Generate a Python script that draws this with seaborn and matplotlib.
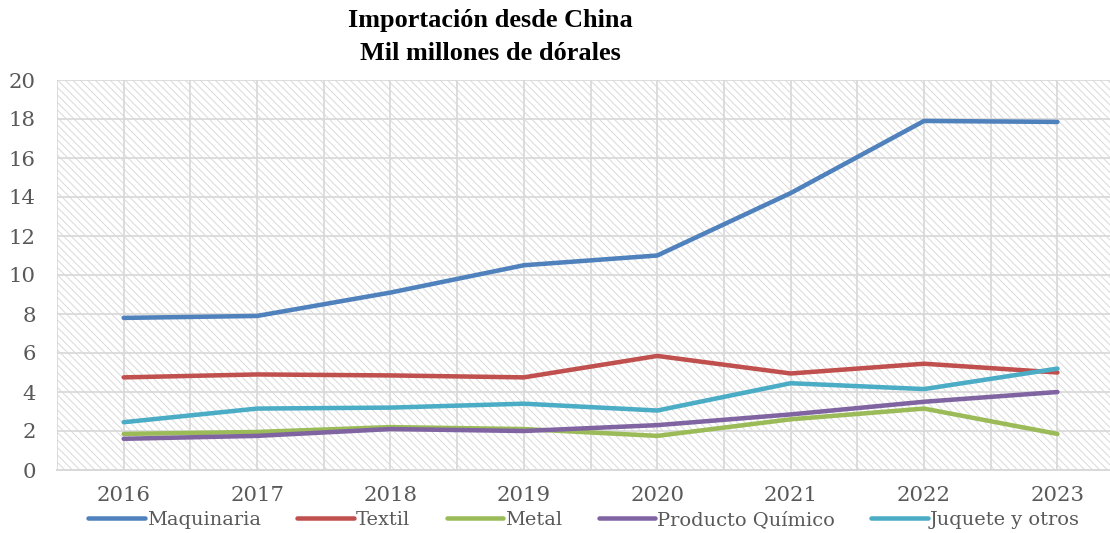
import matplotlib
matplotlib.use("Agg")
import matplotlib.pyplot as plt
import seaborn as sns
import pandas as pd
import numpy as np
from matplotlib.ticker import MultipleLocator, FixedLocator

years = ["2016", "2017", "2018", "2019", "2020", "2021", "2022", "2023"]
maquinaria = [7.8, 7.9, 9.1, 10.5, 11.0, 14.2, 17.9, 17.85]
textil = [4.75, 4.9, 4.85, 4.75, 5.85, 4.95, 5.45, 5.0]
metal = [1.85, 1.95, 2.2, 2.1, 1.75, 2.6, 3.15, 1.85]
quimico = [1.6, 1.75, 2.1, 2.0, 2.3, 2.85, 3.5, 4.0]
juquete = [2.45, 3.15, 3.2, 3.4, 3.05, 4.45, 4.15, 5.2]

series_names = ["Maquinaria", "Textil", "Metal", "Producto Químico", "Juquete y otros"]
series_vals = [maquinaria, textil, metal, quimico, juquete]
colors = ["#4F81BD", "#C0504D", "#9BBB59", "#8064A2", "#4BACC6"]

rows = []
for name, vals in zip(series_names, series_vals):
    for i, v in enumerate(vals):
        rows.append({"pos": i, "year": years[i], "serie": name, "valor": v})
df = pd.DataFrame(rows)

sns.set_theme(style="white")
plt.rcParams["hatch.color"] = "#DADADA"
plt.rcParams["hatch.linewidth"] = 0.8

DPI = 90
W, H = 1110, 533
fig = plt.figure(figsize=(W / DPI, H / DPI), dpi=DPI)
ax = fig.add_axes([57 / W, 1 - 470 / H, (W - 57) / W, (470 - 80) / H])

ax.patch.set_facecolor("white")
ax.patch.set_hatch("\\\\\\\\")
ax.patch.set_edgecolor("#DADADA")

sns.lineplot(data=df, x="pos", y="valor", hue="serie", hue_order=series_names,
             palette=colors, linewidth=3.6, ax=ax, legend=True, sort=False)

ax.set_ylim(0, 20)
ax.set_xlim(-0.5, 7.394)
ax.yaxis.set_major_locator(MultipleLocator(2))
ax.xaxis.set_major_locator(FixedLocator(range(len(years))))
ax.xaxis.set_minor_locator(FixedLocator(np.arange(-0.5, 8.0, 1.0)))
ax.set_xticklabels(years)
ax.grid(True, which="both", axis="x", color="#D9D9D9", linewidth=1.4)
ax.grid(True, which="major", axis="y", color="#D9D9D9", linewidth=1.4)
ax.set_axisbelow(True)
ax.set_xlabel("")
ax.set_ylabel("")
for s in ["top", "right", "left"]:
    ax.spines[s].set_visible(False)
ax.spines["bottom"].set_color("#D9D9D9")
ax.spines["bottom"].set_linewidth(1.6)

tick_font = "DejaVu Serif"
ax.tick_params(axis="both", which="both", length=0, colors="#595959")
for lab in ax.get_xticklabels():
    lab.set_fontfamily(tick_font)
    lab.set_fontsize(17)
for lab in ax.get_yticklabels():
    lab.set_fontfamily(tick_font)
    lab.set_fontsize(17)
ax.tick_params(axis="x", pad=13)
ax.tick_params(axis="y", pad=17)

handles, labels = ax.get_legend_handles_labels()
ax.legend_.remove()
leg = fig.legend(handles, labels, loc="center", bbox_to_anchor=(584 / W, 1 - 520 / H),
                 ncol=5, frameon=False, handlelength=2.9, handletextpad=0.1,
                 columnspacing=1.9, prop={"family": tick_font, "size": 15.5},
                 borderaxespad=0, borderpad=0)
for t in leg.get_texts():
    t.set_color("#595959")
for lh in leg.get_lines():
    lh.set_linewidth(3.6)

fig.text(490 / W, 1 - 21 / H, "Importación desde China", ha="center", va="center",
         family="Liberation Serif", fontweight="bold", fontsize=21, color="black")
fig.text(490 / W, 1 - 53 / H, "Mil millones de dórales", ha="center", va="center",
         family="Liberation Serif", fontweight="bold", fontsize=21, color="black")

fig.savefig("out.png", dpi=DPI)
